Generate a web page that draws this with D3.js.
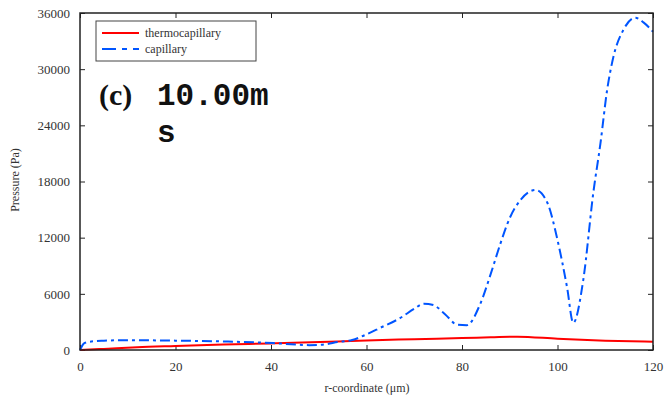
<!DOCTYPE html>
<html>
<head>
<meta charset="utf-8">
<script src="https://cdn.jsdelivr.net/npm/d3@7"></script>
<style>
  body { margin: 0; background: #fff; }
  text { font-family: "Liberation Serif", "DejaVu Serif", serif; }
  .axis-label { fill: #333; font-size: 12px; }
</style>
</head>
<body>
<svg id="chart" width="664" height="401"></svg>
<script>
// capillary pressure (Pa) vs r (um)
var capX = [0, 0.5, 1, 1.7, 3, 5, 10, 20, 31, 40.5, 46, 48, 50, 54.5, 57, 59.7, 63, 67, 70, 72, 74, 76.5, 79, 81, 83.8, 86, 88, 90, 92.2, 95.4, 97.9, 100, 102, 103.3, 105.4, 107.5, 109, 110.4, 111.7, 113.8, 116.3, 118, 120];
var capY = [0, 500, 750, 850, 950, 1000, 1050, 1000, 900, 740, 560, 520, 540, 890, 1070, 1600, 2400, 3400, 4400, 4950, 4800, 3800, 2700, 2650, 4900, 8100, 11300, 14100, 16000, 17100, 15700, 11750, 6700, 2900, 7500, 16800, 22100, 27800, 31300, 34200, 35500, 35000, 34000];
// thermocapillary pressure (Pa)
var thermoX = [0, 5, 12, 20, 30, 40, 54, 60, 70, 80, 86, 91.6, 100, 110, 120];
var thermoY = [0, 120, 300, 430, 580, 700, 900, 1020, 1150, 1270, 1350, 1420, 1200, 1000, 890];
var xTicks = [0, 20, 40, 60, 80, 100, 120];
var yTicks = [0, 6000, 12000, 18000, 24000, 30000, 36000];
var legendNames = ["thermocapillary", "capillary"];
var colors = ["#ff0000", "#0055ff"];

var svg = d3.select("#chart");
var mLeft = 80, mRight = 653, mTop = 13, mBottom = 350;

var x = d3.scaleLinear().domain([0, 120]).range([mLeft, mRight]);
var y = d3.scaleLinear().domain([0, 36000]).range([mBottom, mTop]);

// ticks (inside, mirrored)
function tidy(g) {
  g.attr("font-family", "'Liberation Serif', 'DejaVu Serif', serif").attr("font-size", 13);
  g.select(".domain").remove();
  g.selectAll("line").attr("stroke", "#222");
  g.selectAll("text").attr("fill", "#333");
}
svg.append("g").attr("transform", "translate(0," + mBottom + ")")
   .call(d3.axisBottom(x).tickValues(xTicks).tickSizeInner(-5).tickSizeOuter(0).tickPadding(12))
   .call(tidy);
svg.append("g").attr("transform", "translate(0," + mTop + ")")
   .call(d3.axisTop(x).tickValues(xTicks).tickSizeInner(-5).tickSizeOuter(0).tickFormat(""))
   .call(tidy);
svg.append("g").attr("transform", "translate(" + mLeft + ",0)")
   .call(d3.axisLeft(y).tickValues(yTicks).tickSizeInner(-5).tickSizeOuter(0).tickPadding(10).tickFormat(d3.format("d")))
   .call(tidy);
svg.append("g").attr("transform", "translate(" + mRight + ",0)")
   .call(d3.axisRight(y).tickValues(yTicks).tickSizeInner(-5).tickSizeOuter(0).tickFormat(""))
   .call(tidy);

var line = d3.line().curve(d3.curveMonotoneX)
  .x(function(d) { return x(d[0]); })
  .y(function(d) { return y(d[1]); });

svg.append("path")
   .datum(thermoX.map(function(v, i) { return [v, thermoY[i]]; }))
   .attr("d", line)
   .attr("fill", "none")
   .attr("stroke", colors[0])
   .attr("stroke-width", 2);

svg.append("path")
   .datum(capX.map(function(v, i) { return [v, capY[i]]; }))
   .attr("d", line)
   .attr("fill", "none")
   .attr("stroke", colors[1])
   .attr("stroke-width", 2)
   .attr("stroke-dasharray", "10,4,3,4");

// frame
svg.append("rect")
   .attr("x", mLeft).attr("y", mTop)
   .attr("width", mRight - mLeft).attr("height", mBottom - mTop)
   .attr("fill", "none").attr("stroke", "#222").attr("stroke-width", 1.5);

// legend
var lg = svg.append("g");
lg.append("rect").attr("x", 96).attr("y", 21).attr("width", 160).attr("height", 40)
  .attr("fill", "#fff").attr("stroke", "#444").attr("stroke-width", 1);
legendNames.forEach(function(name, i) {
  var ly = 33 + i * 16;
  lg.append("line").attr("x1", 102).attr("x2", 139).attr("y1", ly).attr("y2", ly)
    .attr("stroke", colors[i]).attr("stroke-width", 2)
    .attr("stroke-dasharray", i === 1 ? "14,6,5,6" : null);
  lg.append("text").attr("x", 145).attr("y", ly + 4).attr("font-size", 12).attr("fill", "#333").text(name);
});

// panel label
svg.append("text").attr("x", 99).attr("y", 105).attr("font-size", 30).attr("font-weight", "bold")
   .attr("fill", "#111").text("(c)");
svg.append("text").attr("x", 157).attr("y", 105).attr("font-size", 31).attr("font-weight", "bold")
   .style("font-family", "'Liberation Mono', 'DejaVu Sans Mono', monospace").attr("fill", "#111").text("10.00m");
svg.append("text").attr("x", 157).attr("y", 142).attr("font-size", 31).attr("font-weight", "bold")
   .style("font-family", "'Liberation Mono', 'DejaVu Sans Mono', monospace").attr("fill", "#111").text("s");

// axis labels
svg.append("text").attr("class", "axis-label").attr("text-anchor", "middle")
   .attr("x", 367).attr("y", 392).text("r-coordinate (\u03bcm)");
svg.append("text").attr("class", "axis-label").attr("text-anchor", "middle")
   .attr("transform", "translate(19,180) rotate(-90)").text("Pressure (Pa)");
</script>
</body>
</html>
